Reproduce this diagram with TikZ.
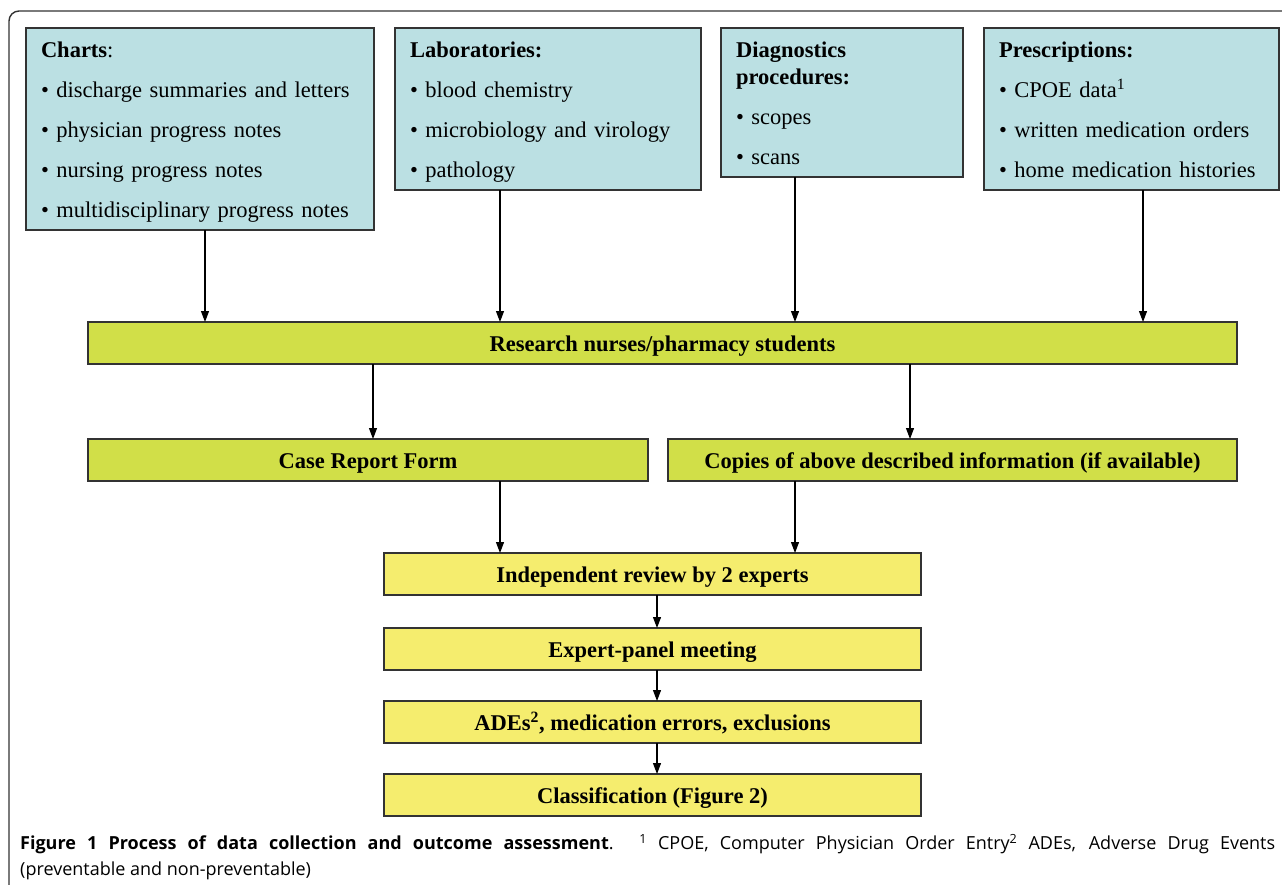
\documentclass[tikz,border=0pt]{standalone}
\usepackage{fontspec}
\setmainfont{Liberation Serif}
\newfontfamily\capfont{Open Sans}
\usepackage{xcolor}
\usepackage{tikz}
\usetikzlibrary{arrows.meta}

\definecolor{chartblue}{RGB}{187,224,227}
\definecolor{nurselime}{RGB}{209,223,72}
\definecolor{panelyellow}{RGB}{245,237,110}

\tikzset{
  srcbox/.style={draw=black!80,line width=1.3pt,fill=chartblue,anchor=north west,
    align=left,inner xsep=15pt,inner ysep=1pt,outer sep=0pt,
    font=\fontsize{22.5}{40}\selectfont},
  stepbar/.style={draw=black!80,line width=1.3pt,anchor=north west,
    minimum height=42pt,inner sep=0pt,outer sep=0pt,text height=19pt,text depth=2pt,
    font=\fontsize{22.5}{27}\selectfont\bfseries},
}
\newcommand{\itm}[1]{\strut\textbullet\ #1}

\begin{document}
\begin{tikzpicture}[x=1pt,y=-1pt]
\useasboundingbox (0,0) rectangle (1282,884);
% frame, cut at the right and at the bottom
\draw[black!80,line width=1.4pt,rounded corners=10pt] (9,900) -- (9,11) -- (1300,11);

% sources
\node[srcbox,text width=318pt] (charts) at (26,28)
  {\strut\textbf{Charts}:\\ \itm{discharge summaries and letters}\\ \itm{physician progress notes}\\
   \itm{nursing progress notes}\\ \itm{multidisciplinary progress notes}};
\node[srcbox,text width=276pt] (labs) at (395,28)
  {\strut\textbf{Laboratories:}\\ \itm{blood chemistry}\\ \itm{microbiology and virology}\\ \itm{pathology}};
\node[srcbox,text width=212pt] (diag) at (721,28)
  {\strut\textbf{Diagnostics}\\[-13pt] \strut\textbf{procedures:}\\ \itm{scopes}\\ \itm{scans}};
\node[srcbox,text width=265pt] (presc) at (984,28)
  {\strut\textbf{Prescriptions:}\\ \itm{CPOE data\textsuperscript{1}}\\ \itm{written medication orders}\\
   \itm{home medication histories}};

% collection
\node[stepbar,fill=nurselime,minimum width=1149pt] (research) at (88,322) {Research nurses/pharmacy students};
\node[stepbar,fill=nurselime,minimum width=560pt] (crf) at (88,439) {Case Report Form};
\node[stepbar,fill=nurselime,minimum width=569pt] (copies) at (668,439) {Copies of above described information (if available)};

% assessment
\node[stepbar,fill=panelyellow,minimum width=537pt] (review) at (384,553) {Independent review by 2 experts};
\node[stepbar,fill=panelyellow,minimum width=537pt] (panel) at (384,628) {Expert-panel meeting};
\node[stepbar,fill=panelyellow,minimum width=537pt] (ades) at (384,701) {ADEs\textsuperscript{2}, medication errors, exclusions};
\node[stepbar,fill=panelyellow,minimum width=537pt] (classif) at (384,774) {Classification (Figure 2)};

\begin{scope}[>={Triangle[length=11pt,width=8pt]},line width=1.1pt]
    \coordinate (xa) at (205,0);
    \coordinate (xb) at (500,0);
    \coordinate (xc) at (795,0);
    \coordinate (xd) at (1143,0);
    \coordinate (xe) at (373,0);
    \coordinate (xf) at (910,0);
    \coordinate (xg) at (657,0);

    \draw[->] (charts.south -| xa) -- (research.north -| xa);
    \draw[->] (labs.south -| xb) -- (research.north -| xb);
    \draw[->] (diag.south -| xc) -- (research.north -| xc);
    \draw[->] (presc.south -| xd) -- (research.north -| xd);

    \draw[->] (research.south -| xe) -- (crf.north -| xe);
    \draw[->] (research.south -| xf) -- (copies.north -| xf);

    \draw[->] (crf.south -| xb) -- (review.north -| xb);
    \draw[->] (copies.south -| xc) -- (review.north -| xc);

    \draw[->] (review.south -| xg) -- (panel.north -| xg);
    \draw[->] (panel.south -| xg) -- (ades.north -| xg);
    \draw[->] (ades.south -| xg) -- (classif.north -| xg);
\end{scope}

% caption
\node[anchor=north west,text width=1255pt,align=justify,inner sep=0pt,
  font=\capfont\fontsize{18}{26}\selectfont] (caption) at (20,834)
  {\textbf{Figure 1 Process of data collection and outcome assessment}. \textsuperscript{1} CPOE,
   Computer Physician Order Entry\textsuperscript{2} ADEs, Adverse Drug Events\linebreak
   (preventable and non-preventable)};
\end{tikzpicture}
\end{document}
